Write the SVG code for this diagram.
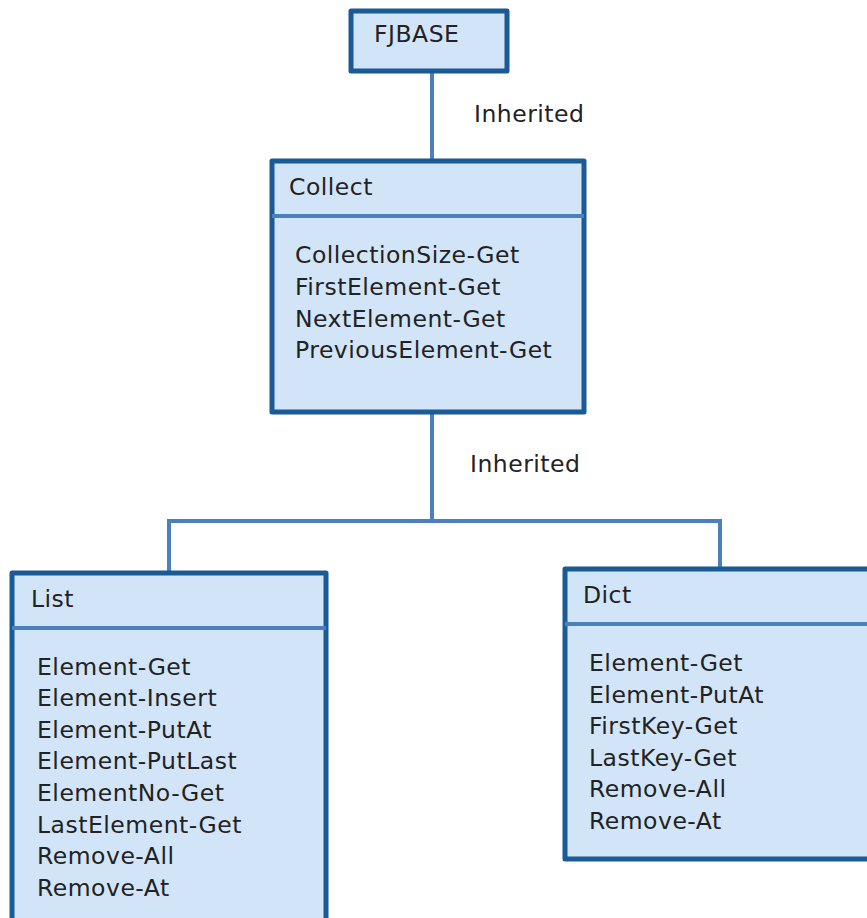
<svg xmlns="http://www.w3.org/2000/svg" width="867" height="918" viewBox="0 0 867 918">
<style>
.box{fill:#d2e5f8;stroke:#1a5b96;stroke-width:5;stroke-linejoin:round}
.div{stroke:#4b80bd;stroke-width:4}
.conn{fill:none;stroke:#4b80bd;stroke-width:4}
text{font-family:"DejaVu Sans",Verdana,sans-serif;font-size:23.5px;letter-spacing:0.5px;fill:#222}
</style>
<rect width="867" height="918" fill="#fff"/>
<g id="connectors">
<line class="conn" x1="432" y1="72" x2="432" y2="160"/>
<path class="conn" d="M432 413 V521 M169 571 V521 H720 V568"/>
<text x="474" y="122">Inherited</text>
<text x="470" y="472">Inherited</text>
</g>
<g id="FJBASE">
<rect class="box" x="351" y="11" width="156" height="60"/>
<text x="374" y="42">FJBASE</text>
</g>
<g id="Collect">
<rect class="box" x="272" y="161" width="312" height="251"/>
<line class="div" x1="272" y1="216" x2="584" y2="216"/>
<text x="289" y="195">Collect</text>
<text x="295" y="263">CollectionSize-Get</text>
<text x="295" y="295">FirstElement-Get</text>
<text x="295" y="327">NextElement-Get</text>
<text x="295" y="358">PreviousElement-Get</text>
</g>
<g id="List">
<rect class="box" x="12" y="573" width="314" height="360"/>
<line class="div" x1="12" y1="628" x2="326" y2="628"/>
<text x="31" y="607">List</text>
<text x="37" y="675">Element-Get</text>
<text x="37" y="706">Element-Insert</text>
<text x="37" y="738">Element-PutAt</text>
<text x="37" y="769">Element-PutLast</text>
<text x="37" y="801">ElementNo-Get</text>
<text x="37" y="833">LastElement-Get</text>
<text x="37" y="864">Remove-All</text>
<text x="37" y="896">Remove-At</text>
</g>
<g id="Dict">
<rect class="box" x="565" y="569" width="320" height="290"/>
<line class="div" x1="565" y1="624" x2="867" y2="624"/>
<text x="583" y="603">Dict</text>
<text x="589" y="671">Element-Get</text>
<text x="589" y="703">Element-PutAt</text>
<text x="589" y="734">FirstKey-Get</text>
<text x="589" y="766">LastKey-Get</text>
<text x="589" y="797">Remove-All</text>
<text x="589" y="829">Remove-At</text>
</g>
</svg>
